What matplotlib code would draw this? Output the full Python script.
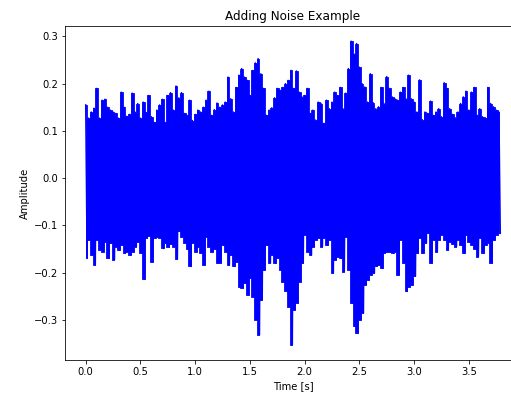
import numpy as np
import matplotlib
matplotlib.use("Agg")
import matplotlib.pyplot as plt

plt.rcParams['path.simplify'] = False

# envelope of the noisy signal, every 0.025 s
step = 0.025
t_peak = np.arange(152) * step
t_trough = t_peak + step / 2

upper = [
    0.155, 0.127, 0.140, 0.148, 0.190, 0.127, 0.165, 0.167, 0.150, 0.144,
    0.140, 0.137, 0.127, 0.182, 0.150, 0.131, 0.135, 0.180, 0.140, 0.158,
    0.127, 0.161, 0.139, 0.175, 0.130, 0.118, 0.144, 0.155, 0.167, 0.118,
    0.175, 0.181, 0.144, 0.195, 0.170, 0.181, 0.137, 0.133, 0.165, 0.122,
    0.135, 0.144, 0.140, 0.150, 0.165, 0.184, 0.133, 0.145, 0.159, 0.150,
    0.155, 0.161, 0.214, 0.168, 0.140, 0.192, 0.218, 0.232, 0.214, 0.207,
    0.175, 0.228, 0.244, 0.253, 0.221, 0.190, 0.133, 0.144, 0.149, 0.170,
    0.190, 0.186, 0.192, 0.200, 0.207, 0.228, 0.190, 0.227, 0.182, 0.172,
    0.175, 0.190, 0.137, 0.144, 0.123, 0.161, 0.158, 0.116, 0.165, 0.147,
    0.161, 0.182, 0.175, 0.192, 0.147, 0.180, 0.232, 0.290, 0.263, 0.285,
    0.235, 0.200, 0.193, 0.161, 0.221, 0.160, 0.147, 0.151, 0.192, 0.158,
    0.215, 0.190, 0.172, 0.168, 0.165, 0.182, 0.192, 0.168, 0.218, 0.168,
    0.161, 0.140, 0.208, 0.124, 0.140, 0.137, 0.163, 0.133, 0.140, 0.147,
    0.130, 0.202, 0.190, 0.147, 0.135, 0.128, 0.140, 0.158, 0.172, 0.184,
    0.144, 0.182, 0.192, 0.133, 0.147, 0.130, 0.128, 0.192, 0.158, 0.151,
    0.144, 0.140]

lower = [
    -0.170, -0.131, -0.163, -0.184, -0.131, -0.152, -0.156, -0.135, -0.170, -0.138,
    -0.173, -0.145, -0.152, -0.142, -0.159, -0.156, -0.163, -0.156, -0.145, -0.135,
    -0.159, -0.214, -0.127, -0.123, -0.177, -0.127, -0.124, -0.127, -0.149, -0.138,
    -0.146, -0.140, -0.145, -0.172, -0.113, -0.124, -0.138, -0.150, -0.187, -0.138,
    -0.156, -0.145, -0.159, -0.184, -0.124, -0.145, -0.156, -0.150, -0.180, -0.179,
    -0.142, -0.156, -0.184, -0.163, -0.187, -0.177, -0.230, -0.233, -0.222, -0.247,
    -0.212, -0.251, -0.300, -0.332, -0.258, -0.194, -0.142, -0.180, -0.163, -0.180,
    -0.170, -0.194, -0.219, -0.240, -0.272, -0.353, -0.279, -0.265, -0.219, -0.180,
    -0.120, -0.156, -0.163, -0.145, -0.131, -0.127, -0.145, -0.127, -0.142, -0.131,
    -0.201, -0.173, -0.166, -0.170, -0.198, -0.124, -0.194, -0.265, -0.314, -0.328,
    -0.300, -0.286, -0.226, -0.216, -0.205, -0.201, -0.187, -0.184, -0.191, -0.159,
    -0.156, -0.156, -0.159, -0.156, -0.205, -0.131, -0.180, -0.240, -0.230, -0.226,
    -0.208, -0.159, -0.127, -0.159, -0.138, -0.117, -0.180, -0.131, -0.156, -0.131,
    -0.120, -0.131, -0.152, -0.135, -0.140, -0.145, -0.131, -0.142, -0.159, -0.120,
    -0.135, -0.142, -0.150, -0.166, -0.127, -0.159, -0.142, -0.138, -0.180, -0.131,
    -0.120, -0.117]

# alternate peaks and troughs into one waveform
time = np.column_stack([t_peak, t_trough]).ravel()
signal = np.column_stack([upper, lower]).ravel()

fig = plt.figure(figsize=(511 / 72, 393 / 72), dpi=72)
ax = fig.add_axes([65 / 511, 33 / 393, 456 / 511, 334 / 393])
# dense samples fill the band solid, so shade between the envelopes too
ax.fill_between(t_peak, upper, lower, step='mid', facecolor='b',
                edgecolor='b', linewidth=0.8)
ax.plot(time, signal, color='b', linewidth=1.5)
ax.set_title("Adding Noise Example")
ax.set_xlabel("Time [s]")
ax.set_ylabel("Amplitude")
ax.set_yticks([-0.3, -0.2, -0.1, 0.0, 0.1, 0.2, 0.3])

fig.savefig("out.png", dpi=72)
